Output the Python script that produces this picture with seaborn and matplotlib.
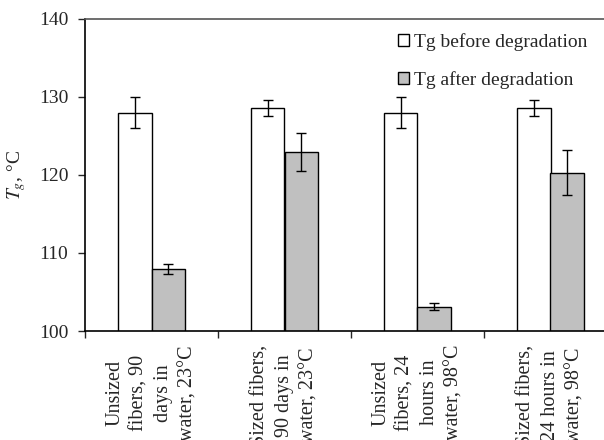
import matplotlib
matplotlib.use("Agg")
import matplotlib.pyplot as plt
import seaborn as sns
import pandas as pd
import numpy as np
from matplotlib.patches import Patch

categories = ["Unsized\nfibers, 90\ndays in\nwater, 23°C",
              "Sized fibers,\n90 days in\nwater, 23°C",
              "Unsized\nfibers, 24\nhours in\nwater, 98°C",
              "Sized fibers,\n24 hours in\nwater, 98°C"]
series = ["Tg before degradation", "Tg after degradation"]
tg_before = [128.0, 128.6, 128.0, 128.6]
tg_after = [108.0, 122.9, 103.1, 120.3]
err_before = [1.95, 1.0, 1.95, 1.0]
err_after = [0.65, 2.45, 0.45, 2.85]

sns.set_style("white")
plt.rcParams['font.family'] = ['Liberation Serif', 'DejaVu Serif']
plt.rcParams['mathtext.fontset'] = 'stix'

df = pd.DataFrame({
    "cat": categories * 2,
    "series": [series[0]] * 4 + [series[1]] * 4,
    "value": tg_before + tg_after,
})

fig = plt.figure(figsize=(6.04, 4.40), dpi=100)
ax = fig.add_axes([85/604, 1 - 331/440, (617 - 85)/604, (331 - 19)/440])

sns.barplot(data=df, x="cat", y="value", hue="series", order=categories,
            hue_order=series, palette=["white", "#c0c0c0"], width=0.5,
            edgecolor="black", linewidth=1, errorbar=None, ax=ax, legend=False)

x = np.arange(len(categories))
ax.errorbar(x - 0.125, tg_before, yerr=err_before, fmt="none", ecolor="black",
            elinewidth=1, capsize=3.6, capthick=1)
ax.errorbar(x + 0.125, tg_after, yerr=err_after, fmt="none", ecolor="black",
            elinewidth=1, capsize=3.6, capthick=1)

ax.set_ylim(100, 140)
ax.set_xlim(-0.5, 3.5)
ax.set_yticks([100, 110, 120, 130, 140])
ax.tick_params(axis="y", direction="out", length=5, width=1, labelsize=14, pad=7, left=True)
ax.set_xticks([-0.5, 0.5, 1.5, 2.5, 3.5])
ax.set_xticklabels([])
ax.tick_params(axis="x", which="major", direction="out", length=5, width=1, bottom=True)
ax.set_xticks(x, minor=True)
ax.set_xticklabels(categories, minor=True, rotation=90, ha="center", va="top",
                   multialignment="center", fontsize=14.5)
for lbl in ax.get_xticklabels(minor=True):
    lbl.set_linespacing(1.4)
ax.tick_params(axis="x", which="minor", length=0, pad=10)
ax.set_xlabel("")
ax.set_ylabel("$T_g$, °C", fontsize=14, labelpad=8)

for s in ax.spines.values():
    s.set_visible(True)
    s.set_color("black")
    s.set_linewidth(1.2)
ax.spines["top"].set_color("#555555")

handles = [Patch(facecolor="white", edgecolor="black", linewidth=1),
           Patch(facecolor="#c0c0c0", edgecolor="black", linewidth=1)]
ax.legend(handles, series, loc="upper left", frameon=False, fontsize=14,
          handlelength=0.6, handleheight=0.6, handletextpad=0.25,
          labelspacing=1.05, borderpad=0.0)
leg = ax.get_legend()
leg.set_bbox_to_anchor((388/604, 1 - 23/440), transform=fig.transFigure)

fig.savefig("out.png", dpi=100)
